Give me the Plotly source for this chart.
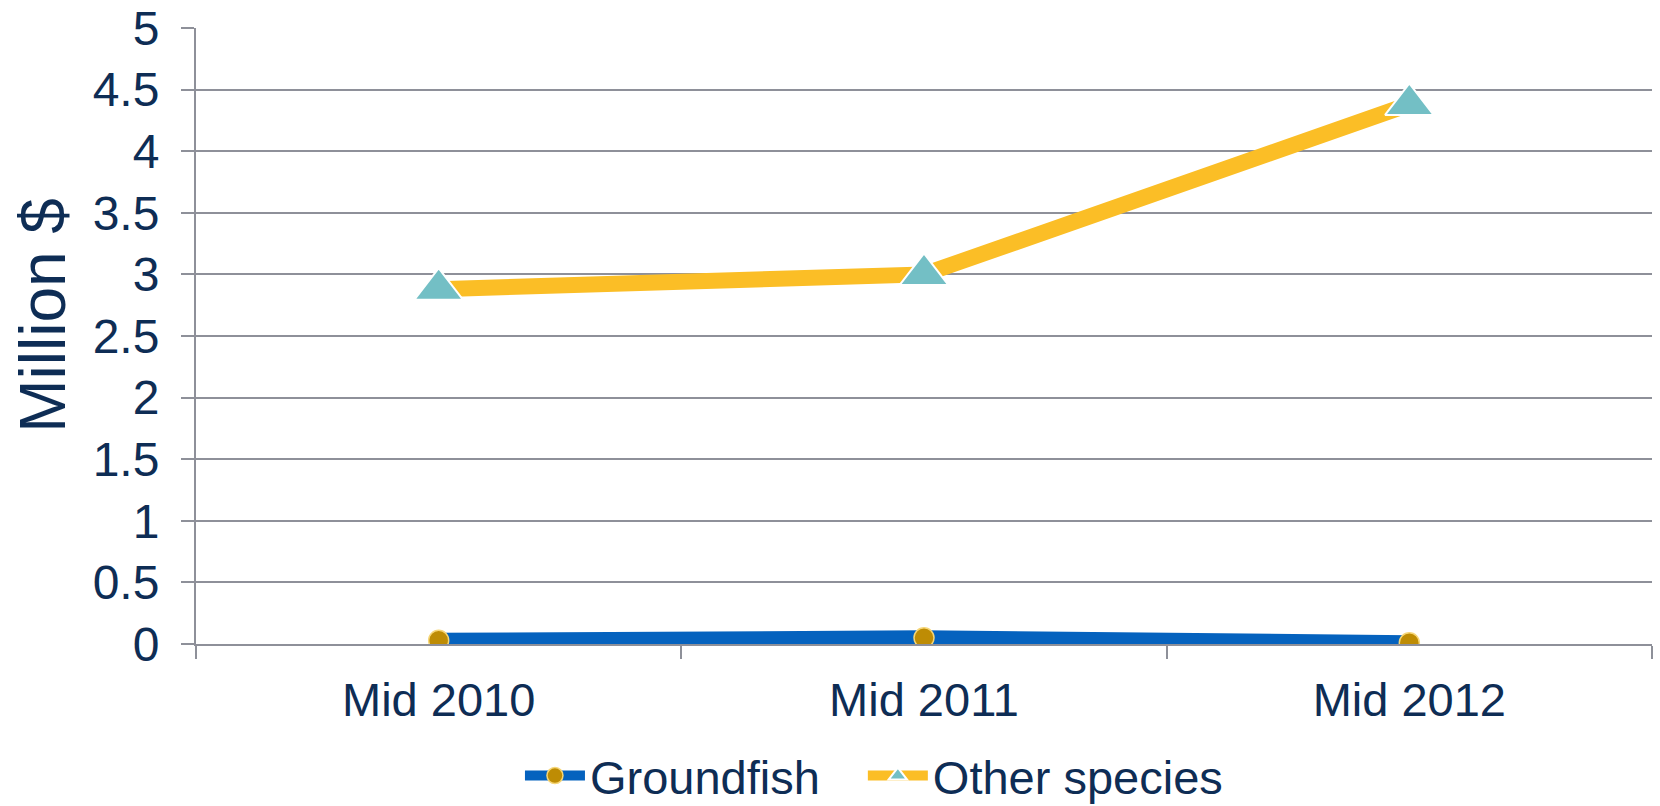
import plotly.graph_objects as go

categories = ["Mid 2010", "Mid 2011", "Mid 2012"]
groundfish = [0.03, 0.05, 0.01]
other_species = [2.88, 3.0, 4.38]
y_tickvals = [0, 0.5, 1, 1.5, 2, 2.5, 3, 3.5, 4, 4.5, 5]
y_ticktext = ["0", "0.5", "1", "1.5", "2", "2.5", "3", "3.5", "4", "4.5", "5"]
y_title = "Million $"

TEXT = "#0E2D55"
GRID = "#8E9099"
FONT = "Liberation Sans, Arial, sans-serif"

fig = go.Figure()
fig.add_trace(go.Scatter(
    x=categories, y=groundfish, name="Groundfish", mode="lines+markers",
    line=dict(color="#0562BE", width=15),
    marker=dict(symbol="circle", size=20, color="#BE8C04",
                line=dict(color="#F6D677", width=1.5)),
    legend="legend",
))
fig.add_trace(go.Scatter(
    x=categories, y=other_species, name="Other species", mode="lines+markers",
    line=dict(color="#FBBE26", width=16),
    marker=dict(symbol="triangle-up", size=42, color="#73BFC5",
                line=dict(color="#FFFFFF", width=2)),
    legend="legend2",
))

fig.add_annotation(
    text=y_title, textangle=-90, xref="paper", yref="paper",
    x=-0.105, y=0.533, xanchor="center", yanchor="middle", showarrow=False,
    font=dict(size=64, color=TEXT, family=FONT),
)

legend_common = dict(orientation="h", xanchor="left", y=-0.2143, yanchor="middle",
                     font=dict(size=47, color=TEXT), itemwidth=60,
                     bgcolor="rgba(0,0,0,0)")

fig.update_layout(
    width=1660, height=806,
    margin=dict(l=196, r=8, t=28, b=162, autoexpand=False),
    paper_bgcolor="white", plot_bgcolor="white",
    font=dict(family=FONT, color=TEXT, size=47),
    showlegend=True,
    legend=dict(x=0.2225, **legend_common),
    legend2=dict(x=0.458, **legend_common),
    xaxis=dict(
        type="category", range=[-0.5, 2.5], tickson="boundaries",
        ticks="outside", ticklen=13, tickcolor=GRID, tickwidth=1.5,
        showgrid=False, showline=True, linecolor=GRID, linewidth=2,
        tickfont=dict(size=47, color=TEXT), ticklabelstandoff=14,
        zeroline=False, automargin=False,
    ),
    yaxis=dict(
        range=[0, 5], tickvals=y_tickvals, ticktext=y_ticktext,
        ticks="outside", ticklen=13, tickcolor=GRID, tickwidth=2,
        showgrid=True, gridcolor=GRID, gridwidth=2,
        showline=True, linecolor=GRID, linewidth=2,
        zeroline=False, tickfont=dict(size=48, color=TEXT),
        ticklabelstandoff=12, automargin=False, ticklabeloverflow="allow",
    ),
)

# remove the default 8px page margin so the figure fills the window exactly
fig.write_html("out.html", config={"displayModeBar": False},
               post_script="document.body.style.margin='0';")
